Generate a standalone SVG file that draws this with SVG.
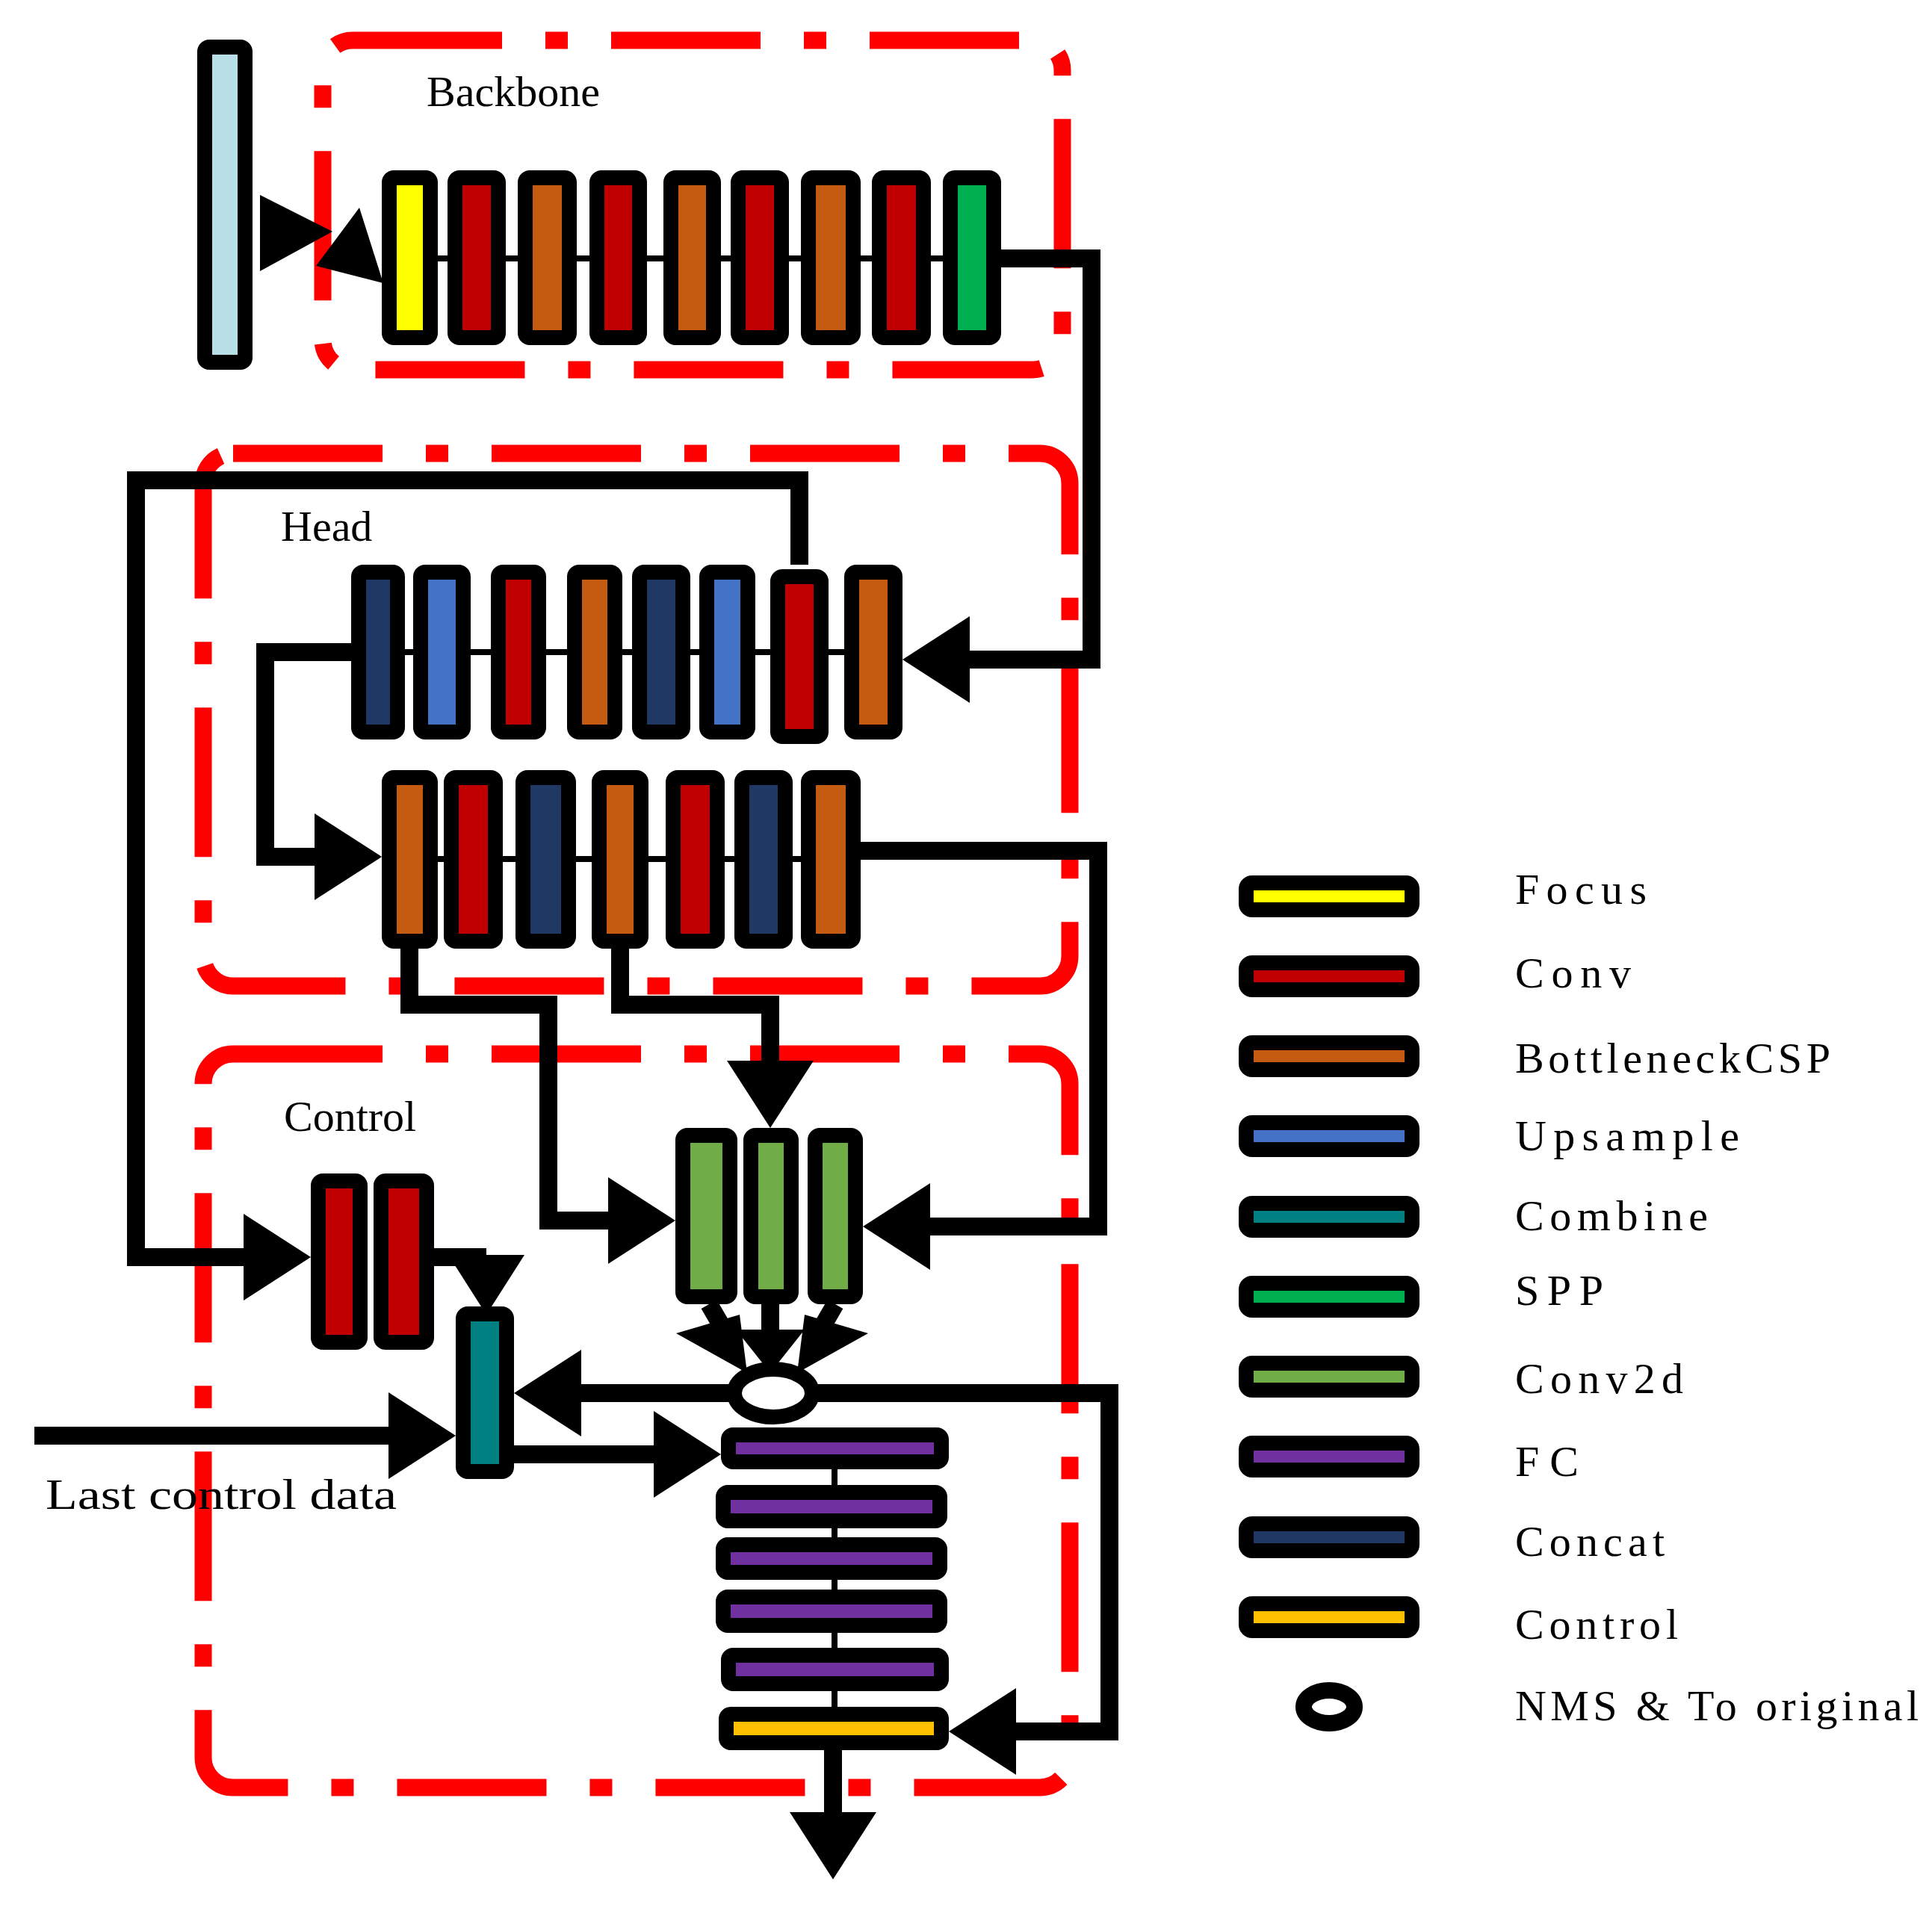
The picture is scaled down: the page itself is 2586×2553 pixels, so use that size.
<svg xmlns="http://www.w3.org/2000/svg" width="2586" height="2553" viewBox="0 0 2586 2553">
<style>
.b{stroke:#000;stroke-width:20;stroke-linejoin:round}
.grp{fill:none;stroke:#FF0000;stroke-width:23;stroke-dasharray:200 58 30 58}
.c{fill:none;stroke:#000;stroke-width:24;stroke-linejoin:miter}
.t{font-family:"Liberation Serif",serif;font-size:58px;fill:#000}
.y{fill:#FFFF00}.r{fill:#C00000}.o{fill:#C55A11}.u{fill:#4472C4}.n{fill:#203864}.tl{fill:#008080}.s{fill:#00B050}.g{fill:#70AD47}.p{fill:#7030A0}.ct{fill:#FFC000}
</style>
<defs>
<marker id="ah" markerUnits="userSpaceOnUse" viewBox="0 -60 95 120" markerWidth="95" markerHeight="120" refX="0" refY="0" orient="auto"><path d="M0,-58 L90,0 L0,58 z" fill="#000"/></marker>
</defs>
<rect width="2586" height="2553" fill="#fff"/>
<g id="groups">
<rect class="grp" x="432" y="54" width="990" height="441" rx="40"/>
<rect class="grp" x="272" y="607" width="1160" height="713" rx="40"/>
<rect class="grp" x="272" y="1411" width="1160" height="982" rx="40"/>
<text class="t" x="571" y="142">Backbone</text>
<text class="t" x="376" y="724">Head</text>
<text class="t" x="380" y="1514">Control</text>
</g>
<g id="connectors">
<polygon points="348,261 348,363 445,310" fill="#000"/>
<polygon points="481,278 513,379 423,356" fill="#000"/>
<path class="c" d="M1340,346 H1461 V883 H1298" marker-end="url(#ah)"/>
<path class="c" d="M470,873 H355 V1147 H421" marker-end="url(#ah)"/>
<path class="c" d="M1070,756 V643 H182 V1683 H326" marker-end="url(#ah)"/>
<path class="c" d="M1152,1139 H1470 V1642 H1245" marker-end="url(#ah)"/>
<path class="c" d="M548,1270 V1345 H734 V1634 H814" marker-end="url(#ah)"/>
<path class="c" d="M830,1270 V1345 H1031 V1420" marker-end="url(#ah)"/>
<path class="c" d="M581,1683 H651 V1680" />
<polygon points="600,1680 702,1680 651,1760" fill="#000"/>
<path class="c" d="M949,1746 L985,1808"/>
<polygon points="905,1785 990,1760 1000,1838" fill="#000"/>
<path class="c" d="M1031,1746 V1800"/>
<polygon points="985,1780 1077,1780 1031,1838" fill="#000"/>
<path class="c" d="M1118,1746 L1082,1808"/>
<polygon points="1162,1785 1077,1760 1067,1838" fill="#000"/>
<path class="c" d="M977,1865 H778" marker-end="url(#ah)"/>
<path class="c" d="M1093,1865 H1485 V2318 H1360" marker-end="url(#ah)"/>
<path class="c" d="M46,1922 H520" marker-end="url(#ah)"/>
<path class="c" d="M688,1947 H875" marker-end="url(#ah)"/>
<path class="c" d="M1115,2343 V2426" marker-end="url(#ah)"/>
<g stroke="#000" stroke-width="8">
<path d="M581,346 H599 M677,346 H693 M772,346 H789 M866,346 H888 M965,346 H978 M1056,346 H1072 M1152,346 H1167 M1246,346 H1262"/>
<path d="M541,873 H553 M630,873 H657 M731,873 H759 M833,873 H846 M924,873 H936 M1011,873 H1031 M1109,873 H1130"/>
<path d="M586,1150 H594 M673,1150 H690 M771,1150 H792 M868,1150 H891 M970,1150 H983 M1061,1150 H1072"/>
<path d="M1117,1967 V1988 M1117,2046 V2058 M1117,2115 V2128 M1117,2186 V2206 M1117,2264 V2285"/>
</g>
</g>
<g id="input"><rect class="b" x="274" y="63" width="54" height="422" rx="6" fill="#B8DEE8"/></g>
<g id="backbone">
<rect class="b y" x="521" y="238" width="55" height="214" rx="6"/>
<rect class="b r" x="609" y="238" width="58" height="214" rx="6"/>
<rect class="b o" x="703" y="238" width="59" height="214" rx="6"/>
<rect class="b r" x="799" y="238" width="57" height="214" rx="6"/>
<rect class="b o" x="898" y="238" width="57" height="214" rx="6"/>
<rect class="b r" x="988" y="238" width="58" height="214" rx="6"/>
<rect class="b o" x="1082" y="238" width="60" height="214" rx="6"/>
<rect class="b r" x="1177" y="238" width="59" height="214" rx="6"/>
<rect class="b s" x="1272" y="238" width="58" height="214" rx="6"/>
</g>
<g id="head1">
<rect class="b n" x="480" y="766" width="52" height="214" rx="6"/>
<rect class="b u" x="563" y="766" width="57" height="214" rx="6"/>
<rect class="b r" x="667" y="766" width="54" height="214" rx="6"/>
<rect class="b o" x="769" y="766" width="54" height="214" rx="6"/>
<rect class="b n" x="856" y="766" width="58" height="214" rx="6"/>
<rect class="b u" x="946" y="766" width="55" height="214" rx="6"/>
<rect class="b r" x="1041" y="772" width="58" height="214" rx="6"/>
<rect class="b o" x="1140" y="766" width="58" height="214" rx="6"/>
</g>
<g id="head2">
<rect class="b o" x="521" y="1041" width="55" height="219" rx="6"/>
<rect class="b r" x="604" y="1041" width="59" height="219" rx="6"/>
<rect class="b n" x="700" y="1041" width="61" height="219" rx="6"/>
<rect class="b o" x="802" y="1041" width="56" height="219" rx="6"/>
<rect class="b r" x="901" y="1041" width="59" height="219" rx="6"/>
<rect class="b n" x="993" y="1041" width="58" height="219" rx="6"/>
<rect class="b o" x="1082" y="1041" width="60" height="219" rx="6"/>
</g>
<g id="control">
<rect class="b r" x="426" y="1581" width="56" height="216" rx="6"/>
<rect class="b r" x="510" y="1581" width="61" height="216" rx="6"/>
<rect class="b tl" x="620" y="1759" width="58" height="211" rx="6"/>
<rect class="b g" x="914" y="1520" width="63" height="216" rx="6"/>
<rect class="b g" x="1005" y="1520" width="54" height="216" rx="6"/>
<rect class="b g" x="1091" y="1520" width="54" height="216" rx="6"/>
<ellipse cx="1035" cy="1865" rx="52" ry="32" fill="#fff" stroke="#000" stroke-width="20"/>
<rect class="b p" x="975" y="1921" width="285" height="36" rx="6"/>
<rect class="b p" x="968" y="1998" width="290" height="38" rx="6"/>
<rect class="b p" x="968" y="2068" width="290" height="37" rx="6"/>
<rect class="b p" x="968" y="2138" width="290" height="38" rx="6"/>
<rect class="b p" x="975" y="2216" width="285" height="38" rx="6"/>
<rect class="b ct" x="972" y="2295" width="288" height="38" rx="6"/>
<text class="t" x="61" y="2020" textLength="470" lengthAdjust="spacingAndGlyphs">Last control data</text>
</g>
<g id="legend">
<rect class="b y" x="1668" y="1182" width="222" height="36" rx="8"/>
<rect class="b r" x="1668" y="1289" width="222" height="36" rx="8"/>
<rect class="b o" x="1668" y="1396" width="222" height="36" rx="8"/>
<rect class="b u" x="1668" y="1503" width="222" height="36" rx="8"/>
<rect class="b tl" x="1668" y="1611" width="222" height="36" rx="8"/>
<rect class="b s" x="1668" y="1718" width="222" height="36" rx="8"/>
<rect class="b g" x="1668" y="1825" width="222" height="36" rx="8"/>
<rect class="b p" x="1668" y="1932" width="222" height="36" rx="8"/>
<rect class="b n" x="1668" y="2040" width="222" height="36" rx="8"/>
<rect class="b ct" x="1668" y="2147" width="222" height="36" rx="8"/>
<ellipse cx="1779" cy="2285" rx="34" ry="22" fill="#fff" stroke="#000" stroke-width="22"/>
<text class="t" x="2028" y="1210" textLength="176">Focus</text>
<text class="t" x="2028" y="1322" textLength="155">Conv</text>
<text class="t" x="2028" y="1436" textLength="422">BottleneckCSP</text>
<text class="t" x="2028" y="1540" textLength="300">Upsample</text>
<text class="t" x="2028" y="1647" textLength="258">Combine</text>
<text class="t" x="2028" y="1747" textLength="118">SPP</text>
<text class="t" x="2028" y="1865" textLength="225">Conv2d</text>
<text class="t" x="2028" y="1976" textLength="85">FC</text>
<text class="t" x="2028" y="2083" textLength="200">Concat</text>
<text class="t" x="2028" y="2194" textLength="218">Control</text>
<text class="t" x="2028" y="2303" textLength="540">NMS &amp; To original</text>
</g>
</svg>
